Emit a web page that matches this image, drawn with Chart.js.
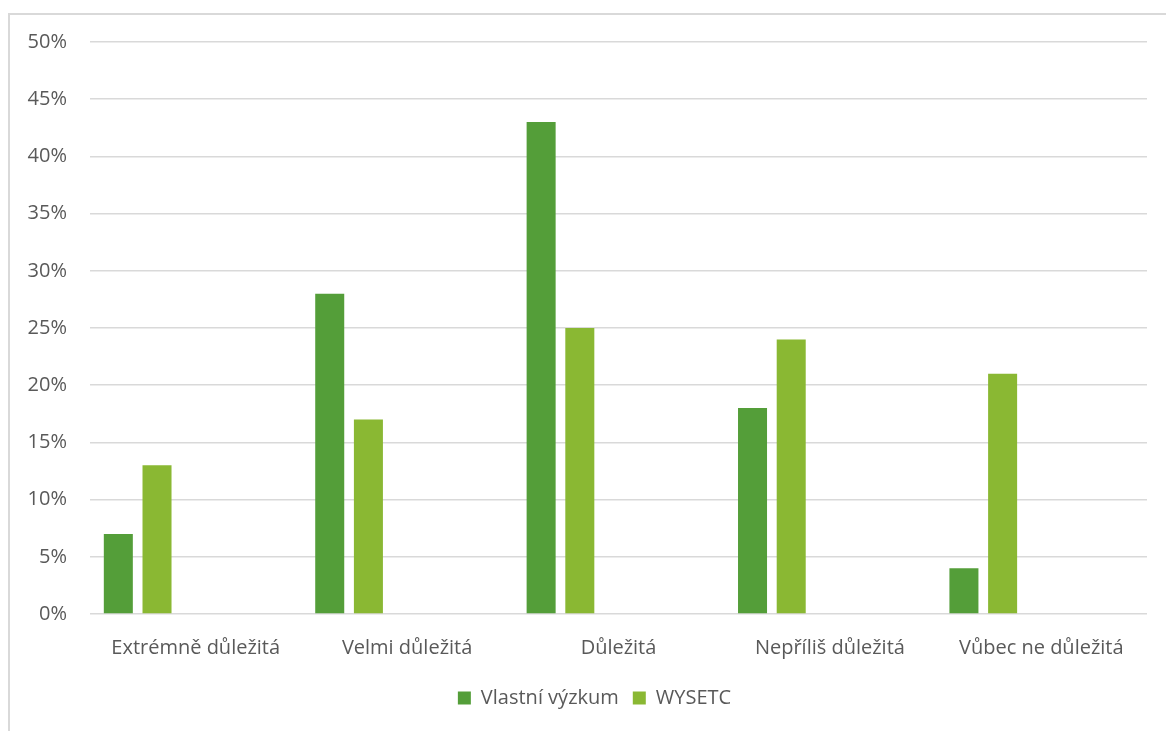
<!DOCTYPE html>
<html>
<head>
<meta charset="utf-8">
<script src="https://cdn.jsdelivr.net/npm/chart.js@4"></script>
<style>
    html, body { margin: 0; padding: 0; background: #fff; overflow: hidden; }
    #frame { position: absolute; left: 8px; top: 13px; width: 1200px; height: 800px; border: 2px solid #d9d9d9; box-sizing: border-box; }
    #wrap { position: absolute; left: 0; top: 0; width: 1166px; height: 731px; }
</style>
</head>
<body>
<div id="frame"></div>
<div id="wrap"><canvas id="grafico"></canvas></div>
<script>
// Datos del gráfico
const kategorie = ['Extrémně důležitá', 'Velmi důležitá', 'Důležitá', 'Nepříliš důležitá', 'Vůbec ne důležitá'];
const vlastniVyzkum = [7, 28, 43, 18, 4];
const wysetc = [13, 17, 25, 24, 21];
const osaY = { min: 0, max: 50, krok: 5 };

const TEXT = '#595959';
const FONT = "'Open Sans', sans-serif";

// Excel reserva 5 espacios por categoría; los 3 últimos van vacíos
const prazdne = () => ({ label: '', data: [], backgroundColor: 'transparent' });

// Excel centra la leyenda en todo el marco, no en el área del gráfico
const posunLegendy = {
    id: 'posunLegendy',
    afterLayout(chart) {
        if (!chart.legend) return;
        chart.legend.left += 21;
        chart.legend.right += 21;
    }
};

new Chart(document.getElementById('grafico'), {
    type: 'bar',
    data: {
        labels: kategorie,
        datasets: [
            { label: 'Vlastní výzkum', data: vlastniVyzkum, backgroundColor: '#549E39' },
            { label: 'WYSETC', data: wysetc, backgroundColor: '#8AB833' },
            prazdne(), prazdne(), prazdne()
        ]
    },
    plugins: [posunLegendy],
    options: {
        responsive: true,
        maintainAspectRatio: false,
        animation: false,
        categoryPercentage: 0.915,
        barPercentage: 0.75,
        layout: { padding: { top: 42, right: 19, bottom: 13, left: 0 } },
        plugins: {
            tooltip: { enabled: false },
            legend: {
                position: 'bottom',
                labels: {
                    filter: (item) => item.text !== '',
                    boxWidth: 13,
                    boxHeight: 13,
                    padding: 14,
                    color: TEXT,
                    font: { family: FONT, size: 20 }
                }
            }
        },
        scales: {
            x: {
                grid: { display: false },
                border: { display: false },
                ticks: { color: TEXT, padding: 14, font: { family: FONT, size: 20 }, maxRotation: 0 }
            },
            y: {
                min: osaY.min,
                max: osaY.max,
                afterFit: (scale) => { scale.width = 90; },
                grid: { color: '#d9d9d9', lineWidth: 1.5, drawTicks: false },
                border: { display: false },
                ticks: {
                    stepSize: osaY.krok,
                    padding: 23,
                    color: TEXT,
                    font: { family: FONT, size: 20 },
                    callback: (v) => v + '%'
                }
            }
        }
    }
});
</script>
</body>
</html>
